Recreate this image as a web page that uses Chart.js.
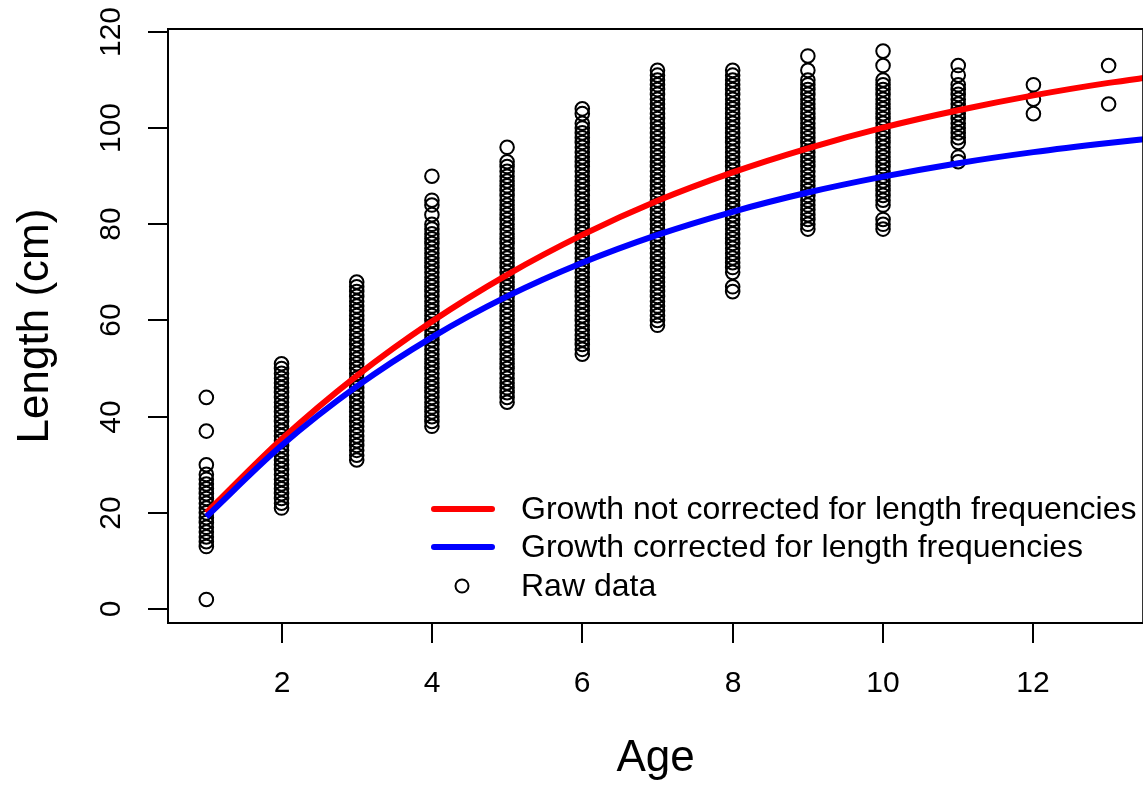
<!DOCTYPE html>
<html>
<head>
<meta charset="utf-8">
<script src="https://cdn.jsdelivr.net/npm/chart.js@4.4.1/dist/chart.umd.min.js"></script>
<style>
  html, body { margin: 0; padding: 0; background: #fff; overflow: hidden; }
  #wrap { width: 1143px; height: 787px; overflow: hidden; }
</style>
</head>
<body>
<div id="wrap"><canvas id="growthChart" width="1152" height="787"></canvas></div>
<script>
// raw lengths (cm) for each age
const ages = [1, 2, 3, 4, 5, 6, 7, 8, 9, 10, 11, 12, 13];
const rawLengths = [
  [2, 13, 14, 15, 16, 17, 18, 19, 20, 21, 22, 23, 24, 25, 26, 27, 28, 30, 37, 44],
  [21, 22, 23, 24, 25, 26, 27, 28, 29, 30, 31, 32, 33, 34, 35, 36, 37, 38, 39, 40, 41, 42, 43, 44, 45, 46, 47, 48, 49, 50, 51],
  [31, 32, 33, 34, 35, 36, 37, 38, 39, 40, 41, 42, 43, 44, 45, 46, 47, 48, 49, 50, 51, 52, 53, 54, 55, 56, 57, 58, 59, 60, 61, 62, 63, 64, 65, 66, 67, 68],
  [38, 39, 40, 41, 42, 43, 44, 45, 46, 47, 48, 49, 50, 51, 52, 53, 54, 55, 56, 57, 58, 59, 60, 61, 62, 63, 64, 65, 66, 67, 68, 69, 70, 71, 72, 73, 74, 75, 76, 77, 78, 79, 80, 82, 84, 85, 90],
  [43, 44, 45, 46, 47, 48, 49, 50, 51, 52, 53, 54, 55, 56, 57, 58, 59, 60, 61, 62, 63, 64, 65, 66, 67, 68, 69, 70, 71, 72, 73, 74, 75, 76, 77, 78, 79, 80, 81, 82, 83, 84, 85, 86, 87, 88, 89, 90, 91, 92, 93, 96],
  [53, 54, 55, 56, 57, 58, 59, 60, 61, 62, 63, 64, 65, 66, 67, 68, 69, 70, 71, 72, 73, 74, 75, 76, 77, 78, 79, 80, 81, 82, 83, 84, 85, 86, 87, 88, 89, 90, 91, 92, 93, 94, 95, 96, 97, 98, 99, 100, 101, 103, 104],
  [59, 60, 61, 62, 63, 64, 65, 66, 67, 68, 69, 70, 71, 72, 73, 74, 75, 76, 77, 78, 79, 80, 81, 82, 83, 84, 85, 86, 87, 88, 89, 90, 91, 92, 93, 94, 95, 96, 97, 98, 99, 100, 101, 102, 103, 104, 105, 106, 107, 108, 109, 110, 111, 112],
  [66, 67, 70, 71, 72, 73, 74, 75, 76, 77, 78, 79, 80, 81, 82, 83, 84, 85, 86, 87, 88, 89, 90, 91, 92, 93, 94, 95, 96, 97, 98, 99, 100, 101, 102, 103, 104, 105, 106, 107, 108, 109, 110, 111, 112],
  [79, 80, 81, 82, 83, 84, 85, 86, 87, 88, 89, 90, 91, 92, 93, 94, 95, 96, 97, 98, 99, 100, 101, 102, 103, 104, 105, 106, 107, 108, 109, 110, 112, 115],
  [79, 80, 81, 84, 85, 86, 87, 88, 89, 90, 91, 92, 93, 94, 95, 96, 97, 98, 99, 100, 101, 102, 103, 104, 105, 106, 107, 108, 109, 110, 113, 116],
  [93, 94, 97, 98, 99, 100, 101, 102, 103, 104, 105, 106, 107, 108, 109, 111, 113],
  [103, 106, 109],
  [105, 113]
];

// fitted growth curves, read at each age
const curveAges = [1, 2, 3, 4, 5, 6, 7, 8, 9, 10, 11, 12, 13, 13.6];
const notCorrected = [20, 35.3, 48.5, 59.8, 69.5, 77.8, 84.9, 90.8, 95.8, 100.1, 103.7, 106.8, 109.4, 110.7];
const corrected = [19.2, 34, 46.3, 56.5, 65, 72, 77.8, 82.6, 86.6, 89.9, 92.7, 95, 96.9, 97.9];

const xTicks = [2, 4, 6, 8, 10, 12];
const yTicks = [0, 20, 40, 60, 80, 100, 120];

const legendLabels = ['Growth not corrected for length frequencies', 'Growth corrected for length frequencies', 'Raw data'];

const FONT = '"Liberation Sans", Arial, Helvetica, sans-serif';

const rawPoints = [];
ages.forEach((a, i) => {
  rawLengths[i].forEach(len => rawPoints.push({ x: a, y: len }));
});
const redPoints = curveAges.map((a, i) => ({ x: a, y: notCorrected[i] }));
const bluePoints = curveAges.map((a, i) => ({ x: a, y: corrected[i] }));

// R style axes, titles and legend
const rAxes = {
  id: 'rAxes',
  afterDraw(chart) {
    const ctx = chart.ctx;
    const area = chart.chartArea;
    const xs = chart.scales.x;
    const ys = chart.scales.y;
    ctx.save();
    ctx.strokeStyle = '#000';
    ctx.fillStyle = '#000';
    ctx.lineWidth = 2;
    ctx.strokeRect(area.left, area.top, area.right - area.left, area.bottom - area.top);

    ctx.font = '30px ' + FONT;
    ctx.textAlign = 'center';
    ctx.textBaseline = 'middle';
    xTicks.forEach(t => {
      const px = Math.round(xs.getPixelForValue(t));
      ctx.beginPath();
      ctx.moveTo(px, area.bottom);
      ctx.lineTo(px, area.bottom + 20);
      ctx.stroke();
      ctx.fillText(String(t), px, 684);
    });
    yTicks.forEach(t => {
      const py = Math.round(ys.getPixelForValue(t));
      ctx.beginPath();
      ctx.moveTo(area.left, py);
      ctx.lineTo(area.left - 20, py);
      ctx.stroke();
      ctx.save();
      ctx.translate(112, py);
      ctx.rotate(-Math.PI / 2);
      ctx.fillText(String(t), 0, 0);
      ctx.restore();
    });

    ctx.font = '44px ' + FONT;
    ctx.textBaseline = 'alphabetic';
    ctx.fillText('Age', (area.left + area.right) / 2, 771);
    ctx.save();
    ctx.translate(48, (area.top + area.bottom) / 2);
    ctx.rotate(-Math.PI / 2);
    ctx.fillText('Length (cm)', 0, 0);
    ctx.restore();

    // legend
    const rows = [509, 547, 586];
    ctx.lineCap = 'round';
    ctx.lineWidth = 6;
    ctx.strokeStyle = '#ff0000';
    ctx.beginPath();
    ctx.moveTo(434, rows[0]);
    ctx.lineTo(492, rows[0]);
    ctx.stroke();
    ctx.strokeStyle = '#0000ff';
    ctx.beginPath();
    ctx.moveTo(434, rows[1]);
    ctx.lineTo(492, rows[1]);
    ctx.stroke();
    ctx.strokeStyle = '#000';
    ctx.lineWidth = 2;
    ctx.beginPath();
    ctx.arc(462, rows[2], 6.5, 0, Math.PI * 2);
    ctx.stroke();
    ctx.font = '32px ' + FONT;
    ctx.textAlign = 'left';
    ctx.textBaseline = 'middle';
    legendLabels.forEach((lab, i) => ctx.fillText(lab, 521, rows[i] + 1));
    ctx.restore();
  }
};

const ctx = document.getElementById('growthChart').getContext('2d');
const chart = new Chart(ctx, {
  type: 'scatter',
  data: {
    datasets: [
      {
        label: legendLabels[2],
        data: rawPoints,
        pointStyle: 'circle',
        pointRadius: 6.8,
        pointBorderWidth: 2,
        pointBorderColor: '#000',
        pointBackgroundColor: 'rgba(0,0,0,0)',
        showLine: false,
        order: 3
      },
      {
        type: 'line',
        label: legendLabels[0],
        data: redPoints,
        borderColor: '#ff0000',
        borderWidth: 6,
        pointRadius: 0,
        fill: false,
        cubicInterpolationMode: 'monotone',
        order: 2
      },
      {
        type: 'line',
        label: legendLabels[1],
        data: bluePoints,
        borderColor: '#0000ff',
        borderWidth: 6,
        pointRadius: 0,
        fill: false,
        cubicInterpolationMode: 'monotone',
        order: 1
      }
    ]
  },
  options: {
    responsive: false,
    animation: false,
    devicePixelRatio: 1,
    layout: { padding: { left: 168, top: 29, right: 6, bottom: 164 } },
    scales: {
      x: { type: 'linear', min: 0.49, max: 13.46, display: false },
      y: { type: 'linear', min: -2.9, max: 120.6, display: false }
    },
    plugins: {
      legend: { display: false },
      tooltip: { enabled: false }
    }
  },
  plugins: [rAxes]
});
</script>
</body>
</html>
